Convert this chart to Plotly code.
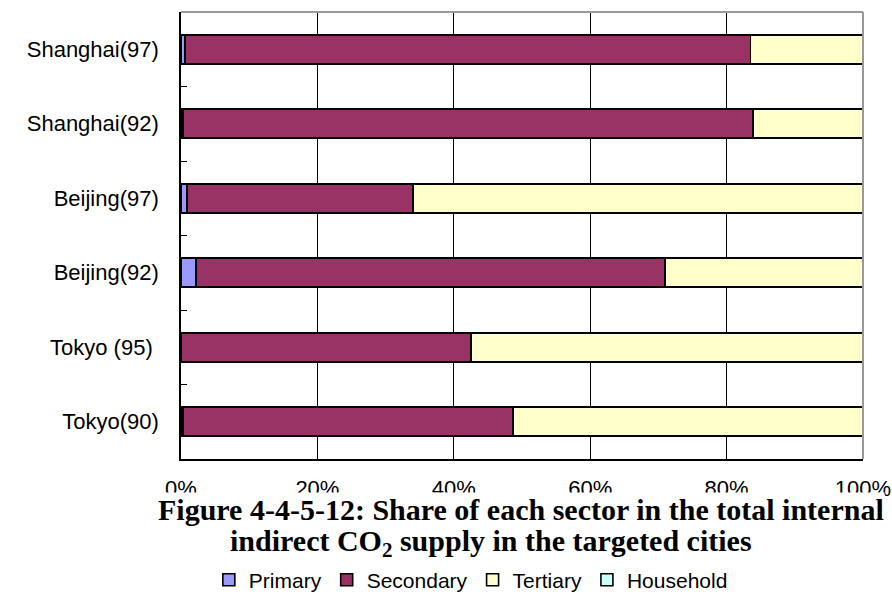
import plotly.graph_objects as go

# Cities / survey years, listed bottom to top
cities = ["Tokyo(90)", "Tokyo (95)\u00a0", "Beijing(92)", "Beijing(97)", "Shanghai(92)", "Shanghai(97)"]

# Share of each sector (%)
primary = [0.3, 0.0, 2.2, 0.9, 0.3, 0.6]
secondary = [48.4, 42.5, 68.8, 33.1, 83.6, 82.9]
tertiary = [51.3, 57.5, 29.0, 66.0, 16.1, 16.5]
household = [0.0, 0.0, 0.0, 0.0, 0.0, 0.0]

x_ticks = [0, 20, 40, 60, 80, 100]
x_tick_text = ["0%", "20%", "40%", "60%", "80%", "100%"]

series = [
    ("Primary", primary, "#9999FF"),
    ("Secondary", secondary, "#993366"),
    ("Tertiary", tertiary, "#FFFFCC"),
    ("Household", household, "#CCFFFF"),
]

fig = go.Figure()
for name, vals, color in series:
    fig.add_trace(go.Bar(
        y=cities, x=vals, name=name, orientation="h",
        marker=dict(color=color, line=dict(color="#000000", width=1.6)),
    ))

sans = "Liberation Sans, Arial, sans-serif"
serif = "Liberation Serif, Times New Roman, serif"
tick_font = dict(family=sans, size=22, color="#000000")
legend_font = dict(family=sans, size=21, color="#000000")
title_font = dict(family=serif, size=30, color="#000000")

fig.update_layout(
    width=892, height=595,
    barmode="stack", bargap=0.61,
    plot_bgcolor="#FFFFFF", paper_bgcolor="#FFFFFF",
    margin=dict(l=181, r=29, t=12, b=136, autoexpand=False),
    showlegend=True,
    legend=dict(
        orientation="h", x=0.425, xanchor="center", y=-0.271, yanchor="middle",
        font=legend_font, traceorder="normal", bgcolor="rgba(0,0,0,0)",
    ),
    xaxis=dict(
        range=[0, 100], tickvals=x_ticks, ticktext=x_tick_text,
        showgrid=True, gridcolor="#000000", gridwidth=1,
        showline=True, linecolor="#000000", linewidth=1.5,
        ticks="", tickfont=tick_font, ticklabelstandoff=9,
        zeroline=False, fixedrange=True,
    ),
    yaxis=dict(
        categoryorder="array", categoryarray=cities,
        showline=True, linecolor="#000000", linewidth=1.5,
        ticks="inside", ticklen=6, tickcolor="#000000", tickwidth=1,
        tickson="boundaries", ticklabelstandoff=16,
        showgrid=False, tickfont=tick_font, fixedrange=True,
    ),
    shapes=[
        # light frame on the top and right of the plot area
        dict(type="line", xref="paper", yref="paper", x0=0, x1=1, y0=1, y1=1,
             line=dict(color="#999999", width=2)),
        dict(type="line", xref="paper", yref="paper", x0=1, x1=1, y0=0, y1=1,
             line=dict(color="#999999", width=2)),
    ],
    annotations=[
        dict(x=0.4545, xref="paper", y=-0.188, yref="paper", yanchor="middle",
             showarrow=False,
             text="<b>indirect CO<sub>2</sub> supply in the targeted cities</b>",
             font=title_font),
        dict(x=0.4985, xref="paper", y=-0.114, yref="paper", yanchor="middle",
             showarrow=False, bgcolor="#FFFFFF", borderpad=0,
             text="<b>Figure 4-4-5-12: Share of each sector in the total internal</b>",
             font=title_font),
    ],
)

fig.write_html("out.html")
